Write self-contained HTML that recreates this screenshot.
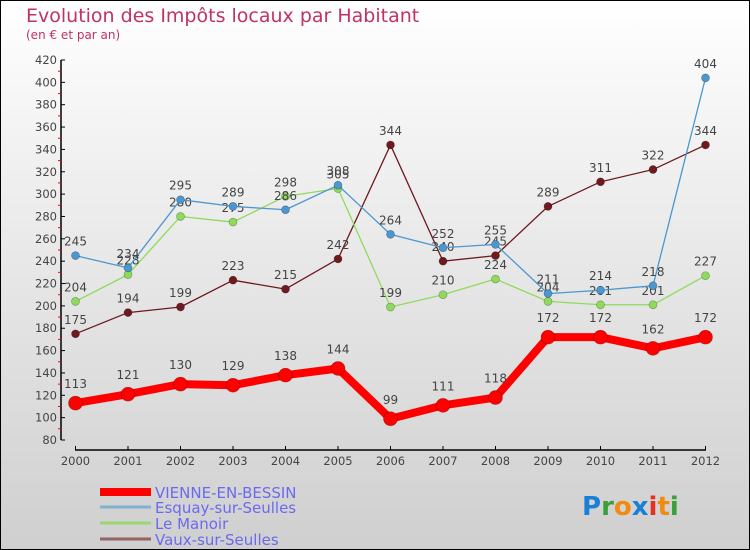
<!DOCTYPE html>
<html><head><meta charset="utf-8"><style>
body{margin:0}
#c{width:750px;height:550px;position:relative;box-sizing:border-box;border:1px solid #000;background:linear-gradient(#fff,#f0f0f0 30%,#cfcfcf);font-family:"DejaVu Sans","Liberation Sans",sans-serif;overflow:hidden}
</style></head><body>
<div id="c">
<svg width="750" height="550" style="position:absolute;left:-1px;top:-1px" id="svg">
<text x="26" y="22" font-size="19" fill="#c0335f">Evolution des Impôts locaux par Habitant</text>
<text x="26" y="39" font-size="12" fill="#c0335f">(en € et par an)</text>
<g id="axes"></g><g id="series"></g><g id="legend"></g>
<text x="582" y="515" font-size="26" font-weight="bold"><tspan fill="#1a7fd6">P</tspan><tspan fill="#3aa03a">r</tspan><tspan fill="#f08a10">o</tspan><tspan fill="#1a7fd6">x</tspan><tspan fill="#e83020">i</tspan><tspan fill="#f08a10">t</tspan><tspan fill="#3aa03a">i</tspan></text>
</svg></div>
<script>
const years=[2000,2001,2002,2003,2004,2005,2006,2007,2008,2009,2010,2011,2012];
const yTicks=[80,100,120,140,160,180,200,220,240,260,280,300,320,340,360,380,400,420];
const vienne=[113,121,130,129,138,144,99,111,118,172,172,162,172];
const esquay=[245,234,295,289,286,308,264,252,255,211,214,218,404];
const manoir=[204,228,280,275,298,305,199,210,224,204,201,201,227];
const vaux=[175,194,199,223,215,242,344,240,245,289,311,322,344];
const seriesNames=["VIENNE-EN-BESSIN","Esquay-sur-Seulles","Le Manoir","Vaux-sur-Seulles"];
const NS="http://www.w3.org/2000/svg";
function X(i){return 75.5+i*52.5}
function Y(v){return 60+(420-v)*380/340}
function mk(t,a,p){const e=document.createElementNS(NS,t);for(const k in a)e.setAttribute(k,a[k]);p.appendChild(e);return e}
const ax=document.getElementById('axes');
let l=mk('line',{x1:61,y1:Y(420),x2:61,y2:Y(80),stroke:'#000','stroke-width':1.5},ax);

yTicks.forEach(v=>{mk('line',{x1:61,y1:Y(v),x2:65,y2:Y(v),stroke:'#000'},ax);
 if(v<420)mk('line',{x1:58,y1:Y(v+10),x2:61,y2:Y(v+10),stroke:'#f00'},ax);
 const t=mk('text',{x:57,y:Y(v)+4,'font-size':11.5,'text-anchor':'end',fill:'#444'},ax);t.textContent=v;
 });
l=mk('line',{x1:75,y1:450,x2:706,y2:450,stroke:'#000','stroke-width':1.5},ax);

years.forEach((y,i)=>{mk('line',{x1:X(i),y1:446,x2:X(i),y2:450,stroke:'#000'},ax);
 const t=mk('text',{x:X(i),y:465,'font-size':11.5,'text-anchor':'middle',fill:'#444'},ax);t.textContent=y;
 });
const sg=document.getElementById('series');
function draw(vals,col,w,r,off,name){
 const g=mk('g',{},sg);
 mk('polyline',{points:vals.map((v,i)=>X(i)+','+Y(v)).join(' '),fill:'none',stroke:col,'stroke-width':w,'stroke-linejoin':'round'},g);
 vals.forEach((v,i)=>{const c=mk('circle',{cx:X(i),cy:Y(v),r:r,fill:col,stroke:'rgba(0,0,0,0.3)','stroke-width':0.7},g);
  
  const t=mk('text',{x:X(i),y:Y(v)-off,'font-size':12,'text-anchor':'middle',fill:'#444'},g);t.textContent=v;
  });
}
draw(vaux,'#6e1a1e',1.3,4,10,'series-vaux');
draw(manoir,'#8edb5c',1.3,4,10,'series-manoir');
draw(esquay,'#4b97d0',1.3,4,10,'series-esquay');
draw(vienne,'#f00',8,7,15,'series-vienne');
const lg=document.getElementById('legend');
const lc=['#f00','#7fb2d0','#99d870','#946464'],lw=[8,3,3,3],ly=[492,507,523,539];
seriesNames.forEach((n,i)=>{const g=mk('g',{},lg);
 mk('line',{x1:100,y1:ly[i],x2:151,y2:ly[i],stroke:lc[i],'stroke-width':lw[i]},g);
 const t=mk('text',{x:155,y:ly[i]+6,'font-size':15,fill:'#6a6aee'},g);t.textContent=n;});
</script></body></html>
